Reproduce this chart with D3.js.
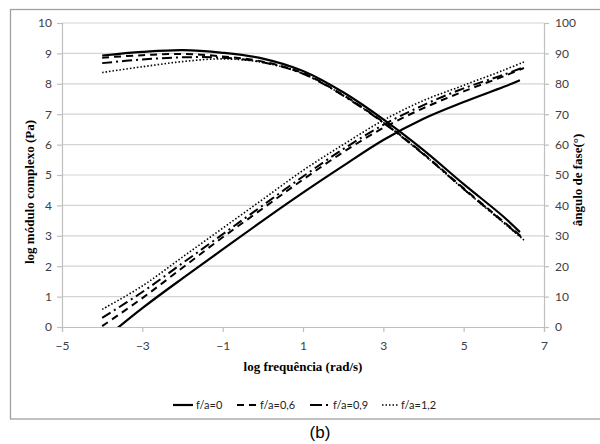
<!DOCTYPE html>
<html><head><meta charset="utf-8">
<script src="https://cdn.jsdelivr.net/npm/d3@7/dist/d3.min.js"></script>
<style>body{margin:0;background:#fff}svg{display:block}</style>
</head><body><svg id="c" width="600" height="444"></svg>
<script>
// log frequency values
const freq = [-4, -3, -2, -1, 0, 1, 2, 3, 4, 5, 6, 6.5];
const freqSolid = [-4, -3, -2, -1, 0, 1, 2, 3, 4, 5, 6, 6.4];
// log complex modulus (Pa), left axis
const mod0  = [-0.45, 0.62, 1.6, 2.55, 3.5, 4.42, 5.3, 6.15, 6.85, 7.4, 7.9, 8.12];
const mod06 = [0.03, 0.95, 1.95, 2.95, 3.9, 4.85, 5.75, 6.55, 7.2, 7.75, 8.25, 8.52];
const mod09 = [0.3, 1.15, 2.1, 3.05, 4.0, 4.95, 5.85, 6.65, 7.3, 7.85, 8.3, 8.55];
const mod12 = [0.58, 1.35, 2.3, 3.25, 4.2, 5.15, 6.0, 6.8, 7.45, 7.95, 8.45, 8.72];
// phase angle (degrees), right axis
const ph0  = [89.3, 90.5, 91.1, 90.2, 88.3, 84.2, 77.2, 68.3, 58.2, 47.0, 36.2, 31.2];
const ph06 = [88.6, 89.4, 89.8, 89.0, 87.3, 83.5, 76.3, 67.4, 57.0, 45.6, 34.6, 29.0];
const ph09 = [86.8, 88.0, 88.7, 88.6, 87.1, 83.3, 76.1, 67.2, 56.8, 45.4, 34.4, 28.8];
const ph12 = [83.7, 85.6, 87.3, 88.2, 87.0, 83.3, 76.2, 67.3, 56.8, 45.3, 34.2, 28.6];
const seriesNames = ["f/a=0", "f/a=0,6", "f/a=0,9", "f/a=1,2"];
const xTicks = [-5, -3, -1, 1, 3, 5, 7];
const yLeftTicks = [0,1,2,3,4,5,6,7,8,9,10];
const yRightTicks = [0,10,20,30,40,50,60,70,80,90,100];

const dashes = [null, "7,5", "10,4,2,4", "1.5,2"];
const widths = [2.2, 2, 2, 1.6];

const svg = d3.select("#c");
const L = 62, R = 544, T = 23, B = 327;
const x = d3.scaleLinear().domain([-5, 7]).range([L, R]);
const yL = d3.scaleLinear().domain([0, 10]).range([B, T]);
const yR = d3.scaleLinear().domain([0, 100]).range([B, T]);

// outer border
svg.append("rect").attr("x", 10.5).attr("y", 9.5).attr("width", 600).attr("height", 409.5)
  .attr("fill", "none").attr("stroke", "#a0a0a0").attr("stroke-width", 1.3);

// gridlines
svg.append("g").selectAll("line").data(yLeftTicks.slice(1)).join("line")
  .attr("x1", L).attr("x2", R).attr("y1", d => yL(d)).attr("y2", d => yL(d))
  .attr("stroke", "#d4d4d4").attr("stroke-width", 1.2);

const tickFont = "Lato, 'Open Sans', sans-serif";
// left axis
const gL = svg.append("g").attr("transform", `translate(${L},0)`)
  .call(d3.axisLeft(yL).tickValues(yLeftTicks).tickSize(5).tickPadding(5));
// right axis
const gR = svg.append("g").attr("transform", `translate(${R},0)`)
  .call(d3.axisRight(yR).tickValues(yRightTicks).tickSize(5).tickPadding(6));
// bottom axis
const gB = svg.append("g").attr("transform", `translate(0,${B})`)
  .call(d3.axisBottom(x).tickValues(xTicks).tickSize(5).tickPadding(9));
[gL, gR, gB].forEach(g => {
  g.select(".domain").attr("stroke", "#bfbfbf").attr("stroke-width", 1.2);
  g.selectAll(".tick line").attr("stroke", "#bfbfbf").attr("stroke-width", 1.2);
  g.selectAll(".tick text").attr("fill", "#404040").style("font-family", tickFont).style("font-size", "12px");
});

// clip
svg.append("clipPath").attr("id", "clip").append("rect")
  .attr("x", L).attr("y", T - 5).attr("width", R - L + 2).attr("height", B - T + 5);

const mods = [mod0, mod06, mod09, mod12];
const phs = [ph0, ph06, ph09, ph12];
const lineL = d3.line().x(d => x(d[0])).y(d => yL(d[1])).curve(d3.curveCatmullRom);
const lineR = d3.line().x(d => x(d[0])).y(d => yR(d[1])).curve(d3.curveCatmullRom);
const plot = svg.append("g").attr("clip-path", "url(#clip)");
for (let i = 3; i >= 0; i--) {
  const xs = i === 0 ? freqSolid : freq;
  plot.append("path").datum(xs.map((f, j) => [f, mods[i][j]])).attr("d", lineL)
    .attr("fill", "none").attr("stroke", "#000").attr("stroke-width", widths[i])
    .attr("stroke-dasharray", dashes[i]);
  plot.append("path").datum(xs.map((f, j) => [f, phs[i][j]])).attr("d", lineR)
    .attr("fill", "none").attr("stroke", "#000").attr("stroke-width", widths[i])
    .attr("stroke-dasharray", dashes[i]);
}

// axis titles
const titleFont = "'Liberation Serif', 'Times New Roman', serif";
svg.append("text").attr("transform", "translate(34,192) rotate(-90)").attr("text-anchor", "middle")
  .style("font-family", titleFont).style("font-weight", "bold").style("font-size", "13px")
  .text("log módulo complexo (Pa)");
svg.append("text").attr("transform", "translate(582,180) rotate(-90)").attr("text-anchor", "middle")
  .style("font-family", titleFont).style("font-weight", "bold").style("font-size", "13px")
  .text("ângulo de fase(°)");
svg.append("text").attr("x", 303).attr("y", 371).attr("text-anchor", "middle")
  .style("font-family", titleFont).style("font-weight", "bold").style("font-size", "13px")
  .text("log frequência (rad/s)");

// legend
const legX = [173, 237, 310, 382];
const legW = [20, 20, 20, 16];
const lg = svg.append("g");
seriesNames.forEach((n, i) => {
  lg.append("line").attr("x1", legX[i]).attr("x2", legX[i] + legW[i]).attr("y1", 405).attr("y2", 405)
    .attr("stroke", "#000").attr("stroke-width", widths[i]).attr("stroke-dasharray", i === 2 ? "12,4,2,4" : dashes[i]);
  lg.append("text").attr("x", legX[i] + legW[i] + 3).attr("y", 409)
    .style("font-family", tickFont).style("font-size", "11px").attr("fill", "#222").text(n);
});

svg.append("text").attr("x", 320).attr("y", 438).attr("text-anchor", "middle")
  .style("font-family", "'Liberation Sans', Arial, sans-serif").style("font-size", "17px").text("(b)");
</script></body></html>
